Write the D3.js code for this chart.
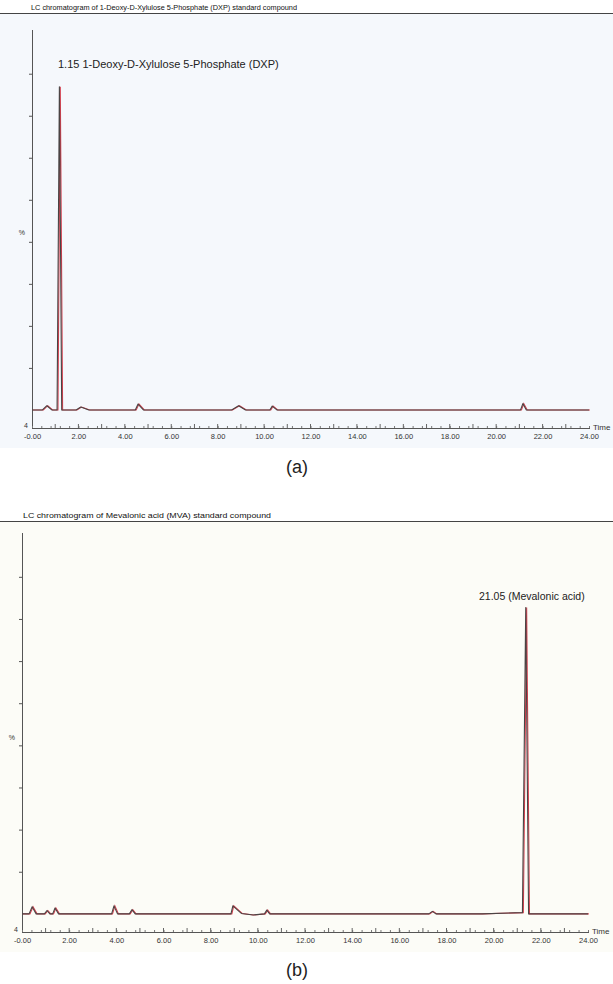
<!DOCTYPE html>
<html><head><meta charset="utf-8">
<script src="https://cdn.jsdelivr.net/npm/d3@7"></script>
<style>body{margin:0;background:#fff}svg{display:block}text{font-family:"Liberation Sans",Arial,sans-serif}</style>
</head><body>
<svg id="c" width="613" height="984"></svg>
<script>
// ---- data (retention time in min, relative intensity %) ----
const titleA = "LC chromatogram of 1-Deoxy-D-Xylulose 5-Phosphate (DXP) standard compound";
const titleB = "LC chromatogram of Mevalonic acid (MVA) standard compound";
const peakLabelA = "1.15 1-Deoxy-D-Xylulose 5-Phosphate (DXP)";
const peakLabelB = "21.05 (Mevalonic acid)";
const xTickLabels = ["-0.00","2.00","4.00","6.00","8.00","10.00","12.00","14.00","16.00","18.00","20.00","22.00","24.00"];
const xTickValues = [0,2,4,6,8,10,12,14,16,18,20,22,24];
const yTickValues = [10,20,30,40,50,60,70,80];

const timeA = [0.0,0.45,0.64,0.85,1.08,1.18,1.28,1.9,2.1,2.45,4.45,4.57,4.8,8.6,8.9,9.2,10.25,10.35,10.55,21.05,21.15,21.3,24.0];
const valueA = [0,0,1.0,0,0,76.9,0,0,0.7,0,0,1.4,0,0,1.0,0,0,0.9,0,0,1.5,0,0];

const timeB = [0.0,0.3,0.43,0.6,0.95,1.06,1.18,1.3,1.4,1.55,3.8,3.9,4.05,4.55,4.66,4.8,8.86,8.94,9.3,9.8,10.28,10.38,10.5,17.25,17.4,17.55,19.5,21.22,21.36,21.48,24.0];
const valueB = [0,0,1.7,0,0,0.8,0,0,1.4,0,0,1.9,0,0,1.0,0,0,1.9,0.1,-0.25,0,0.9,0,0,0.6,0,0,0.3,72.7,0,0];

const svg = d3.select("#c");

function panel(cfg){
  const g = svg.append("g");
  g.append("rect").attr("x",0).attr("y",cfg.bgTop).attr("width",613).attr("height",cfg.bgBottom-cfg.bgTop).attr("fill",cfg.bg);
  g.append("line").attr("x1",0).attr("x2",613).attr("y1",cfg.bgTop+0.5).attr("y2",cfg.bgTop+0.5).attr("stroke","#444").attr("stroke-width",1);
  g.append("text").attr("x",cfg.titleX).attr("y",cfg.bgTop-3).attr("font-size",cfg.titleSize)
    .attr("textLength",cfg.titleLen).attr("lengthAdjust","spacingAndGlyphs").attr("fill","#111").text(cfg.title);

  const x = d3.scaleLinear().domain([0,24]).range([cfg.x0,cfg.x24]);
  const y = d3.scaleLinear().domain([-4.3,90.4]).range([cfg.axisBottom,cfg.axisTop]);

  // y axis
  const ya = d3.axisLeft(y).tickValues(yTickValues).tickSize(3).tickFormat("");
  const yg = g.append("g").attr("transform",`translate(${cfg.x0},0)`).call(ya);
  yg.select(".domain").attr("stroke","#555").attr("d",`M0.5,${cfg.axisTop}V${cfg.axisBottom}`);
  yg.selectAll(".tick line").attr("stroke","#555");

  // x axis: minor ticks + major ticks upward
  const minor = d3.range(0,24.001,0.4);
  const xm = d3.axisTop(x).tickValues(minor).tickSize(2).tickFormat("");
  const xmg = g.append("g").attr("transform",`translate(0,${cfg.axisBottom})`).call(xm);
  xmg.select(".domain").attr("stroke","#555").attr("d",`M${cfg.x0},0.5H${cfg.x24+1}`);
  xmg.selectAll(".tick line").attr("stroke","#777");
  const xa = d3.axisBottom(x).tickValues(xTickValues).tickSize(0).tickPadding(6)
    .tickFormat((d,i)=>xTickLabels[i]);
  const xg = g.append("g").attr("transform",`translate(0,${cfg.axisBottom})`).call(xa);
  xg.select(".domain").remove();
  xg.selectAll(".tick text").attr("font-size",7.5).attr("fill","#333").attr("font-family","Liberation Sans, Arial, sans-serif");
  g.append("g").selectAll("line").data(d3.range(1,24,1)).join("line")
    .attr("x1",d=>x(d)).attr("x2",d=>x(d)).attr("y1",cfg.axisBottom).attr("y2",cfg.axisBottom-4).attr("stroke","#666");

  g.append("text").attr("x",cfg.x24+4).attr("y",cfg.axisBottom+2).attr("font-size",8).attr("fill","#333").text("Time");
  g.append("text").attr("x",cfg.x0-8).attr("y",cfg.axisBottom).attr("font-size",7).attr("fill","#333").text("4");
  g.append("text").attr("x",cfg.x0-7).attr("y",cfg.pctY).attr("font-size",7).attr("text-anchor","end").attr("fill","#333").text("%");

  // trace
  const pts = cfg.t.map((t,i)=>[t,cfg.v[i]]);
  const line = d3.line().x(d=>x(d[0])).y(d=>y(d[1]));
  g.append("path").datum(pts).attr("d",line).attr("fill","none").attr("stroke","#d4404f").attr("stroke-width",1.1)
    .attr("transform","translate(0.9,0)");
  g.append("path").datum(pts).attr("d",line).attr("fill","none").attr("stroke","#4a4444").attr("stroke-width",1.1)
    .attr("stroke-linejoin","round");

  g.append("text").attr("x",cfg.labX).attr("y",cfg.labY).attr("font-size",cfg.labSize).attr("fill","#222").text(cfg.label);
  g.append("text").attr("x",297).attr("y",cfg.capY).attr("font-size",18).attr("text-anchor","middle").attr("fill","#222").attr("font-family","Arial, Liberation Sans, sans-serif").text(cfg.cap);
}

panel({bgTop:13,bgBottom:448,bg:"#f5f8fc",title:titleA,titleX:31,titleSize:7.5,titleLen:266,
  x0:32,x24:589,axisTop:30,axisBottom:428,pctY:235,t:timeA,v:valueA,
  label:peakLabelA,labX:58,labY:68,labSize:11,cap:"(a)",capY:473});
panel({bgTop:521,bgBottom:952,bg:"#fcfcf7",title:titleB,titleX:23,titleSize:8,titleLen:248,
  x0:22,x24:588,axisTop:533,axisBottom:932,pctY:740,t:timeB,v:valueB,
  label:peakLabelB,labX:479,labY:600,labSize:10.5,cap:"(b)",capY:976});
</script>
</body></html>
